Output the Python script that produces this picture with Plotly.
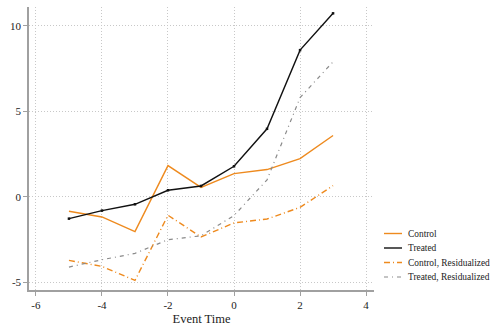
import plotly.graph_objects as go

event_time = [-5, -4, -3, -2, -1, 0, 1, 2, 3]
control = [-0.84, -1.17, -2.03, 1.83, 0.56, 1.36, 1.6, 2.24, 3.59]
treated = [-1.27, -0.8, -0.43, 0.39, 0.64, 1.79, 3.98, 8.58, 10.73]
control_resid = [-3.71, -4.06, -4.88, -1.07, -2.34, -1.52, -1.29, -0.61, 0.66]
treated_resid = [-4.1, -3.67, -3.3, -2.5, -2.27, -1.09, 1.0, 5.8, 7.9]

series_names = ["Control", "Treated", "Control, Residualized", "Treated, Residualized"]
x_ticks = [-6, -4, -2, 0, 2, 4]
y_ticks = [-5, 0, 5, 10]

ORANGE = "#EE8A1E"
BLACK = "#111111"
GRAY = "#8a8a8a"
FONT = "Liberation Serif"

styles = [
    dict(color=ORANGE, width=1.4, dash="solid"),
    dict(color=BLACK, width=1.4, dash="solid"),
    dict(color=ORANGE, width=1.4, dash="6px,3px,1px,3px"),
    dict(color=GRAY, width=1.2, dash="4px,4px,1px,4px"),
]
data = [control, treated, control_resid, treated_resid]

L, R, T, B = 29, 374, 7, 290

fig = go.Figure()
for name, ys, st in zip(series_names, data, styles):
    fig.add_trace(go.Scatter(x=event_time, y=ys, mode="lines", name=name,
                             line=st, showlegend=False))
fig.add_trace(go.Scatter(x=event_time, y=treated, mode="markers",
                         marker=dict(color=BLACK, size=2.5, symbol="square"),
                         showlegend=False, hoverinfo="skip"))

# compact legend drawn at the reference position
row_y = [233.5, 248, 262.5, 277]
for name, st, yy in zip(series_names, styles, row_y):
    yp = 1 - (yy - T) / (B - T)
    fig.add_shape(type="line", xref="paper", yref="paper",
                  x0=(384 - L) / (R - L), x1=(402 - L) / (R - L),
                  y0=yp, y1=yp, line=st)
    fig.add_annotation(text=name, xref="paper", yref="paper",
                       x=(406 - L) / (R - L), y=yp, xanchor="left", yanchor="middle",
                       showarrow=False, font=dict(family=FONT, size=9.4, color="#222"))

fig.update_layout(
    template="none",
    width=493, height=330,
    margin=dict(l=L, r=493 - R, t=T, b=330 - B, pad=0),
    paper_bgcolor="white", plot_bgcolor="white",
    font=dict(family=FONT, size=11, color="#222"),
)
common = dict(showgrid=True, gridcolor="#c8c8c8", griddash="1px,2px", gridwidth=1,
              zeroline=False, showline=True, linecolor="#a0a0a0", linewidth=1.5,
              ticks="outside", ticklen=4, tickcolor="#a0a0a0", automargin=False,
              tickfont=dict(family=FONT, size=11, color="#222"))
fig.update_xaxes(range=[-6.21, 4.24], tickvals=x_ticks, ticktext=[str(v) for v in x_ticks],
                 title=dict(text="Event Time", font=dict(family=FONT, size=12.5), standoff=4),
                 **common)
fig.update_yaxes(range=[-5.44, 11.1], tickvals=y_ticks, ticktext=[str(v) for v in y_ticks],
                 **common)

fig.write_html("out.html", config={"displayModeBar": False},
               post_script="document.body.style.margin='0';")
